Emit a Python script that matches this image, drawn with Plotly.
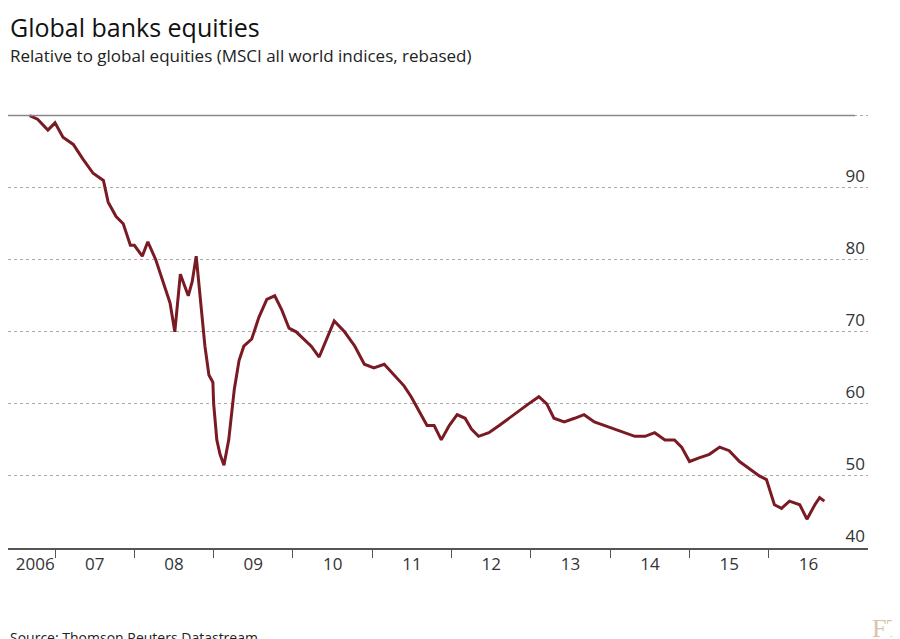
import plotly.graph_objects as go

# fractional years
years = [2006.68, 2006.78, 2006.91, 2007.0, 2007.1, 2007.23, 2007.35, 2007.48, 2007.61, 2007.67,
         2007.77, 2007.86, 2007.95, 2008.0, 2008.1, 2008.17, 2008.27, 2008.36, 2008.45, 2008.51,
         2008.58, 2008.68, 2008.73, 2008.78, 2008.83, 2008.89, 2008.94, 2008.99, 2009.0, 2009.04,
         2009.08, 2009.13, 2009.19, 2009.26, 2009.32, 2009.38, 2009.48, 2009.57, 2009.67, 2009.77,
         2009.86, 2009.95, 2010.04, 2010.14, 2010.23, 2010.33, 2010.43, 2010.52, 2010.65, 2010.78,
         2010.9, 2011.02, 2011.15, 2011.28, 2011.4, 2011.49, 2011.59, 2011.69, 2011.78, 2011.87,
         2011.97, 2012.07, 2012.17, 2012.25, 2012.34, 2012.47, 2012.6, 2012.72, 2012.85, 2012.97,
         2013.1, 2013.2, 2013.29, 2013.42, 2013.55, 2013.67, 2013.8, 2013.93, 2014.05, 2014.18,
         2014.31, 2014.44, 2014.56, 2014.69, 2014.81, 2014.9, 2015.0, 2015.12, 2015.25, 2015.38,
         2015.5, 2015.63, 2015.76, 2015.88, 2015.97, 2016.07, 2016.16, 2016.26, 2016.39, 2016.48,
         2016.58, 2016.64, 2016.7]
values = [100, 99.5, 98, 99, 97, 96, 94, 92, 91, 88,
          86, 85, 82, 82, 80.5, 82.5, 80, 77, 74, 70,
          78, 75, 77, 80.5, 75, 68, 64, 63, 60, 55,
          53, 51.5, 55, 62, 66, 68, 69, 72, 74.5, 75,
          73, 70.5, 70, 69, 68, 66.5, 69, 71.5, 70, 68,
          65.5, 65, 65.5, 64, 62.5, 61, 59, 57, 57, 55,
          57, 58.5, 58, 56.5, 55.5, 56, 57, 58, 59, 60,
          61, 60, 58, 57.5, 58, 58.5, 57.5, 57, 56.5, 56,
          55.5, 55.5, 56, 55, 55, 54, 52, 52.5, 53, 54,
          53.5, 52, 51, 50, 49.5, 46, 45.5, 46.5, 46, 44,
          46, 47, 46.5]

label_years = [2006.75] + [2007.5 + i for i in range(10)]
label_text = ["2006", "07", "08", "09", "10", "11", "12", "13", "14", "15", "16"]
y_ticks = [40, 50, 60, 70, 80, 90, 100]

fig = go.Figure()
fig.add_trace(go.Scatter(x=years, y=values, mode="lines",
                         line=dict(color="#7a1b24", width=3), hoverinfo="skip"))

fig.update_layout(
    width=900, height=639,
    paper_bgcolor="white", plot_bgcolor="white",
    showlegend=False,
    margin=dict(l=0, r=40, t=86, b=99, autoexpand=False),
    font=dict(family="Open Sans", color="#333333"),
    xaxis=dict(range=[2006.407, 2017.25], tickvals=label_years, ticktext=label_text,
               ticks="", showgrid=False, zeroline=False,
               showline=True, linecolor="#555555", linewidth=1.5,
               tickfont=dict(size=17, color="#333333"),
               minor=dict(tick0=2007, dtick=1, ticks="outside", ticklen=8,
                          tickcolor="#555555", showgrid=False)),
    yaxis=dict(range=[40, 103], tickvals=y_ticks, side="right",
               ticklabelposition="inside top", showline=False, zeroline=False,
               gridcolor="#aaaaaa", griddash="dot", gridwidth=1,
               tickfont=dict(size=17, color="#333333")),
    annotations=[
        dict(text="Global banks equities", x=0, y=1, xref="paper", yref="paper",
             xanchor="left", yanchor="top", showarrow=False,
             font=dict(size=25, color="#111111"), xshift=0, yshift=86),
        dict(text="Relative to global equities (MSCI all world indices, rebased)",
             x=0, y=1, xref="paper", yref="paper", xanchor="left", yanchor="top",
             showarrow=False, font=dict(size=17, color="#222222"), xshift=0, yshift=52),
        dict(text="Source: Thomson Reuters Datastream", x=0, y=0, xref="paper",
             yref="paper", xanchor="left", yanchor="middle", showarrow=False,
             font=dict(size=14, color="#222222"), xshift=0, yshift=-89),
        dict(text="FT", x=1, y=0, xref="paper", yref="paper", xanchor="right",
             yanchor="middle", showarrow=False,
             font=dict(size=26, color="#d8c4a8", family="Liberation Serif"),
             xshift=36, yshift=-80),
    ],
)
fig.add_shape(type="line", xref="paper", yref="y", x0=0, x1=0.985, y0=100, y1=100,
              line=dict(color="#888888", width=1.5))

fig.write_html("out.html")
